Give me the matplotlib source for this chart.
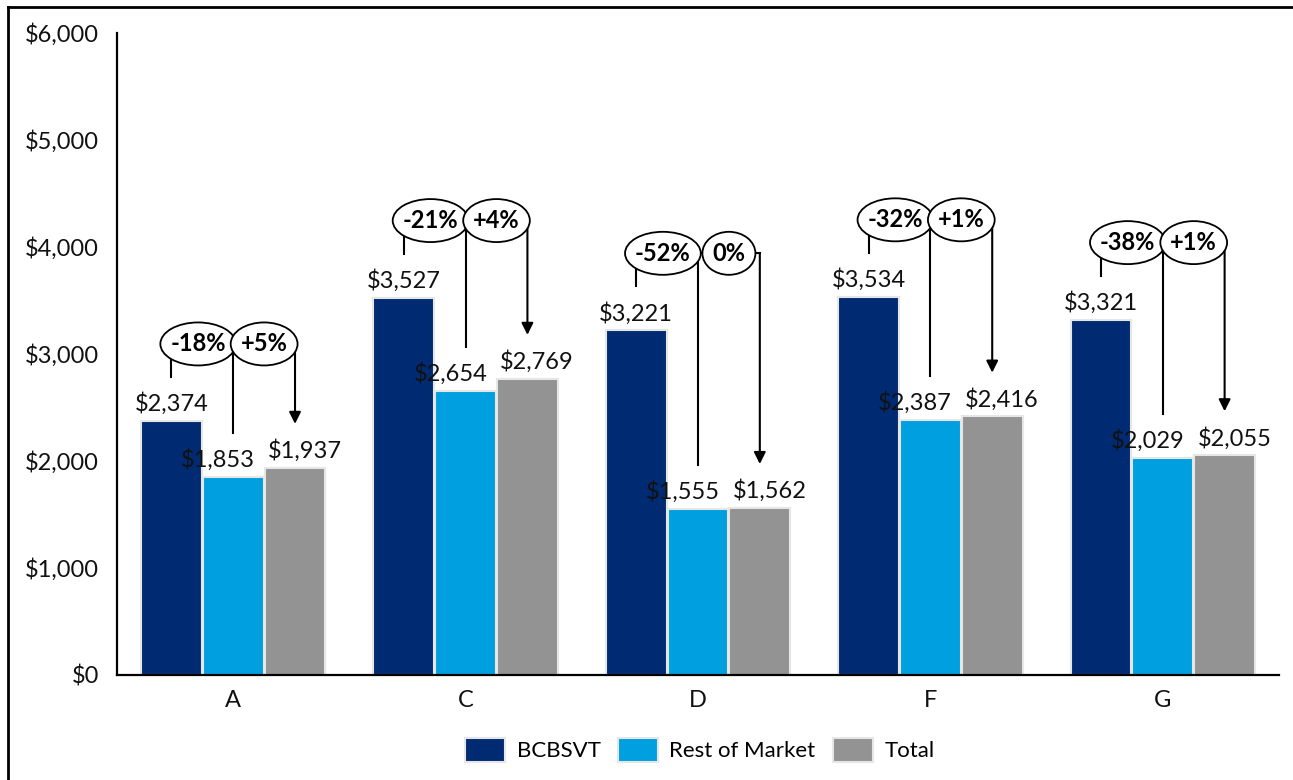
import matplotlib.pyplot as plt
import matplotlib.ticker as mticker
from matplotlib.lines import Line2D
from matplotlib.patches import Ellipse
import numpy as np

plt.rcParams['font.family'] = ['Lato', 'DejaVu Sans']

# data
categories = ['A', 'C', 'D', 'F', 'G']
bcbsvt = [2374, 3527, 3221, 3534, 3321]
rest = [1853, 2654, 1555, 2387, 2029]
total = [1937, 2769, 1562, 2416, 2055]
pct_rest = ['-18%', '-21%', '-52%', '-32%', '-38%']
pct_total = ['+5%', '+4%', '0%', '+1%', '+1%']

c_bcbs = '#002B73'
c_rest = '#009FDF'
c_total = '#939393'

fig = plt.figure(figsize=(12.93, 7.80), dpi=100)
ax = fig.add_axes([117 / 1293, 1 - 675 / 780, (1279 - 117) / 1293, (675 - 33) / 780])

x = np.arange(len(categories))
w = 0.262
off = 0.266
series = [(bcbsvt, c_bcbs, 'BCBSVT', -off), (rest, c_rest, 'Rest of Market', 0), (total, c_total, 'Total', off)]
label_dx = [0, -11, 7]  # label nudges in points

for i, (vals, col, name, o) in enumerate(series):
    ax.bar(x + o, vals, w, color=col, edgecolor='#E6E6E6', linewidth=1.5, label=name, zorder=2)
    for xi, v in zip(x, vals):
        ax.annotate('${:,}'.format(v), (xi + o, v), xytext=(label_dx[i], 7), textcoords='offset points',
                    ha='center', va='baseline', fontsize=17, color='#111111', zorder=4)

ax.set_xlim(-0.5, len(categories) - 0.5)
ax.set_ylim(0, 6000)

# brackets with ellipse labels
gap = 410
lift = 720
pct_texts = []
for i in range(len(categories)):
    lvl = max(bcbsvt[i], rest[i], total[i]) + lift
    x0, x1, x2 = x[i] - off, x[i], x[i] + off
    ax.plot([x0, x0], [bcbsvt[i] + gap, lvl], color='black', lw=1.5, zorder=3)
    ax.plot([x1, x1], [rest[i] + gap, lvl], color='black', lw=1.5, zorder=3)
    ax.plot([x0, x2], [lvl, lvl], color='black', lw=1.5, zorder=3)
    ax.annotate('', xy=(x2, total[i] + gap), xytext=(x2, lvl),
                arrowprops=dict(arrowstyle='-|>,head_length=0.7,head_width=0.35', color='black', lw=1.5,
                                shrinkA=0, shrinkB=0), zorder=3)
    t1 = ax.text((x0 + x1) / 2 - 0.018, lvl, pct_rest[i], ha='center', va='center', fontsize=17,
                 fontweight='bold', zorder=6)
    t2 = ax.text((x1 + x2) / 2, lvl, pct_total[i], ha='center', va='center', fontsize=17,
                 fontweight='bold', zorder=6)
    pct_texts += [t1, t2]

# ellipses sized to the text
fig.canvas.draw()
r = fig.canvas.get_renderer()
px_x = ax.transData.transform((1, 0))[0] - ax.transData.transform((0, 0))[0]
px_y = ax.transData.transform((0, 1000))[1] - ax.transData.transform((0, 0))[1]
for t in pct_texts:
    bb = t.get_window_extent(r)
    ew = (bb.width + 20) / px_x
    eh = 43 / px_y * 1000
    ax.add_patch(Ellipse(t.get_position(), ew, eh, fc='white', ec='black', lw=1.3, zorder=5))

ax.set_yticks(range(0, 6001, 1000))
ax.yaxis.set_major_formatter(mticker.FuncFormatter(lambda v, p: '${:,.0f}'.format(v)))
ax.set_xticks(x)
ax.set_xticklabels(categories)
ax.tick_params(axis='both', length=0, labelsize=17, colors='#111111')
ax.tick_params(axis='y', pad=13)
ax.tick_params(axis='x', pad=11)
for s in ['top', 'right']:
    ax.spines[s].set_visible(False)
for s in ['left', 'bottom']:
    ax.spines[s].set_linewidth(1.6)
    ax.spines[s].set_color('black')

fig.legend(loc='center', bbox_to_anchor=(700 / 1293, 1 - 750 / 780), ncol=3, frameon=False,
           fontsize=16, handlelength=1.8, handleheight=1.3, handletextpad=0.5, columnspacing=0.8)

# outer frame (top and left edge visible)
fig.add_artist(Line2D([8 / 1293, 1], [1 - 7 / 780, 1 - 7 / 780], color='black', lw=2, transform=fig.transFigure))
fig.add_artist(Line2D([8 / 1293, 8 / 1293], [0, 1 - 7 / 780], color='black', lw=2, transform=fig.transFigure))

fig.savefig('out.png', dpi=100)
